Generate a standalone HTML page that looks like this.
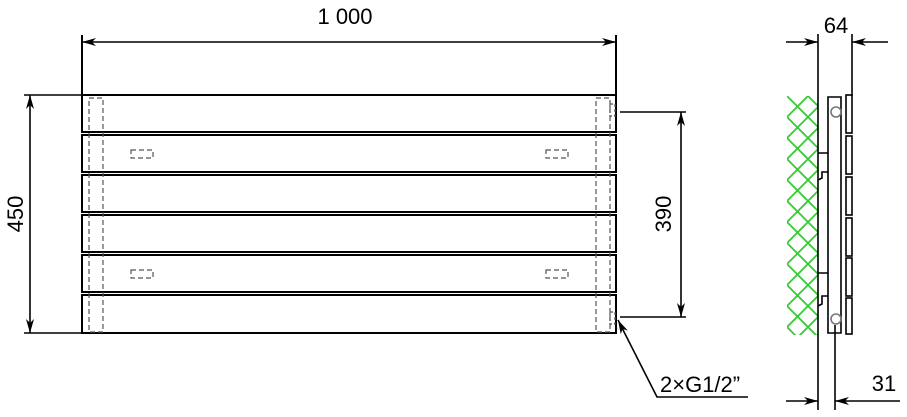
<!DOCTYPE html>
<html><head><meta charset="utf-8"><style>body{margin:0;background:#fff}</style></head><body>
<svg width="907" height="412" viewBox="0 0 907 412" xmlns="http://www.w3.org/2000/svg" font-family="Liberation Sans, sans-serif">
<defs>
<marker id="a" markerWidth="14" markerHeight="8" refX="14" refY="4" orient="auto-start-reverse" markerUnits="userSpaceOnUse"><path d="M0,0 L14,4 L0,8 L4,4 Z" fill="#000"/></marker>
<pattern id="h" x="787" y="96" width="21" height="21" patternUnits="userSpaceOnUse"><path d="M0,0 L21,21 M21,0 L0,21" stroke="#3c3" stroke-width="1.8"/></pattern>
</defs>
<g stroke="#000" fill="none" stroke-width="2">
<rect x="82" y="95" width="534" height="37"/>
<rect x="82" y="135" width="534" height="37"/>
<rect x="82" y="175" width="534" height="37"/>
<rect x="82" y="215" width="534" height="37"/>
<rect x="82" y="255" width="534" height="37"/>
<rect x="82" y="295" width="534" height="38"/>
<line x1="82" y1="35" x2="82" y2="95"/>
<line x1="616" y1="35" x2="616" y2="95"/>
<line x1="82" y1="42" x2="616" y2="42" marker-start="url(#a)" marker-end="url(#a)" stroke-width="1.6"/>
<line x1="24" y1="95" x2="82" y2="95" stroke-width="1.6"/>
<line x1="24" y1="333" x2="82" y2="333" stroke-width="1.6"/>
<line x1="30" y1="333" x2="30" y2="95" marker-start="url(#a)" marker-end="url(#a)" stroke-width="1.6"/>
<line x1="620" y1="112" x2="686" y2="112" stroke-width="1.6"/>
<line x1="620" y1="317" x2="686" y2="317" stroke-width="1.6"/>
<line x1="681" y1="317" x2="681" y2="112" marker-start="url(#a)" marker-end="url(#a)" stroke-width="1.6"/>
<polyline points="618,320 657,397 748,397" stroke-width="1.6" marker-start="url(#a)"/>
</g>
<g stroke="#555" fill="none" stroke-width="1.2" stroke-dasharray="5,3">
<rect x="89" y="98" width="14" height="234"/>
<rect x="596" y="98" width="14" height="234"/>
<rect x="131" y="150" width="22" height="8"/>
<rect x="546" y="150" width="22" height="8"/>
<rect x="131" y="270" width="22" height="8"/>
<rect x="546" y="270" width="22" height="8"/>
<rect x="610" y="104" width="5" height="12" stroke-dasharray="3,2"/>
<rect x="610" y="312" width="5" height="12" stroke-dasharray="3,2"/>
</g>
<text x="345" y="24" font-size="22" text-anchor="middle">1 000</text>
<text transform="translate(23,214) rotate(-90)" font-size="22" text-anchor="middle">450</text>
<text transform="translate(671,214) rotate(-90)" font-size="22" text-anchor="middle">390</text>
<text x="660" y="392" font-size="22">2×G1/2”</text>
<rect x="787" y="96" width="31" height="239" fill="url(#h)"/>
<g stroke="#000" fill="none" stroke-width="1.6">
<line x1="818" y1="34" x2="818" y2="410"/>
<line x1="852" y1="34" x2="852" y2="96"/>
<line x1="786" y1="42" x2="818" y2="42" marker-end="url(#a)"/>
<line x1="888" y1="42" x2="852" y2="42" marker-end="url(#a)"/>
<line x1="786" y1="401" x2="818" y2="401" marker-end="url(#a)"/>
<line x1="900" y1="401" x2="835" y2="401" marker-end="url(#a)"/>
<line x1="835" y1="325" x2="835" y2="410"/>
<path d="M828,97 H841 V333 H828 Z"/>
<path d="M818,153 H828 M818,180 l4,-2 V172 H828 M818,273 H828 M818,306 l4,-2 V296 H828"/>
<rect x="846" y="95" width="6" height="38"/>
<rect x="846" y="136" width="6" height="38"/>
<rect x="846" y="177" width="6" height="38"/>
<rect x="846" y="218" width="6" height="38"/>
<rect x="846" y="258" width="6" height="38"/>
<rect x="846" y="298" width="6" height="36"/>
<circle cx="836" cy="112" r="5" stroke="#777"/>
<circle cx="836" cy="319" r="5" stroke="#777"/>
</g>
<text x="836" y="33" font-size="22" text-anchor="middle">64</text>
<text x="884" y="391" font-size="22" text-anchor="middle">31</text>
</svg>
</body></html>
